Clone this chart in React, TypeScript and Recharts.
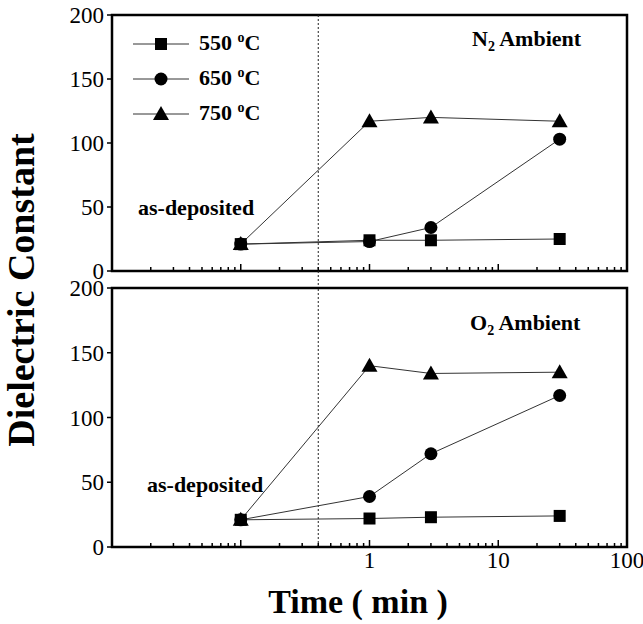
import React from 'react';
import { LineChart, Line, XAxis, YAxis, ReferenceLine, ReferenceArea, Legend } from 'recharts';

// annealing time (min); 0.1 stands for the as-deposited film
const TIMES = [0.1, 1, 3, 30];

const N2_550 = [21, 24, 24, 25];
const N2_650 = [21, 23, 34, 103];
const N2_750 = [21, 117, 120, 117];

const O2_550 = [21, 22, 23, 24];
const O2_650 = [21, 39, 72, 117];
const O2_750 = [21, 140, 134, 135];

const SERIES = ['550', '650', '750'];
const Y_TICKS = [0, 50, 100, 150, 200];
const X_LABELS = [1, 10, 100];
const X_DECADES = [0.01, 0.1, 1, 10, 100];
const DIVIDER_X = 0.4;

const FONT = '"Liberation Serif", "Times New Roman", serif';

// log ticks: every 1..9 multiple of each decade
const X_TICKS: number[] = [];
X_DECADES.slice(0, 4).forEach(d => {
    for (let m = 1; m < 10; m++) X_TICKS.push(+(d * m).toPrecision(3));
});
X_TICKS.push(100);

const buildRows = (a: number[], b: number[], c: number[]) =>
    TIMES.map((t, i) => ({ t, s550: a[i], s650: b[i], s750: c[i] }));

const n2Rows = buildRows(N2_550, N2_650, N2_750);
const o2Rows = buildRows(O2_550, O2_650, O2_750);

const Square = (p: any) => <rect key={`sq-${p.index}`} x={p.cx - 6} y={p.cy - 6} width={12} height={12} fill="#000" />;
const Dot = (p: any) => <circle key={`ci-${p.index}`} cx={p.cx} cy={p.cy} r={6.5} fill="#000" />;
const Tri = (p: any) => (
    <polygon key={`tr-${p.index}`} points={`${p.cx},${p.cy - 8} ${p.cx - 8},${p.cy + 6} ${p.cx + 8},${p.cy + 6}`} fill="#000" />
);

const MARKERS: Record<string, (p: any) => React.ReactElement> = { '550': Square, '650': Dot, '750': Tri };

const XTick = ({ x, y, payload, showLabel }: any) => {
    const v = payload.value;
    const major = X_DECADES.some(d => Math.abs(d - v) < 1e-9);
    const len = major ? 7 : 4;
    return (
        <g>
            <line x1={x} x2={x} y1={y} y2={y - len} stroke="#000" strokeWidth={1.5} />
            {showLabel && X_LABELS.includes(v) && (
                <text x={x} y={y + 21} textAnchor="middle" fontSize={23} fontFamily={FONT} fill="#000">{v}</text>
            )}
        </g>
    );
};

// y tick: text position comes in already offset by tickSize + tickMargin
const YTick = ({ x, y, payload }: any) => (
    <text x={x} y={y} dy={8} textAnchor="end" fontSize={23} fontFamily={FONT} fill="#000">{payload.value}</text>
);

const LegendContent = () => (
    <div style={{ fontFamily: FONT, fontWeight: 'bold', fontSize: 22, color: '#000' }}>
        {SERIES.map(s => (
            <div key={s} style={{ display: 'flex', alignItems: 'center', height: 35 }}>
                <svg width={58} height={20} style={{ marginRight: 8 }}>
                    <line x1={0} x2={56} y1={10} y2={10} stroke="#333" strokeWidth={1} />
                    {MARKERS[s]({ cx: 28, cy: 10, index: 0 })}
                </svg>
                <span>{s} <sup style={{ fontSize: 14 }}>o</sup>C</span>
            </div>
        ))}
    </div>
);

const Panel = ({ rows, height, marginTop, xAxisHeight, showXLabels, extendDivider, withLegend }: any) => (
    <LineChart width={643} height={height} data={rows} margin={{ top: marginTop, right: 16, bottom: 0, left: 0 }}>
        <XAxis
            dataKey="t"
            type="number"
            scale="log"
            domain={[0.01, 100]}
            allowDataOverflow
            ticks={X_TICKS}
            interval={0}
            axisLine={false}
            tickLine={false}
            tickSize={0}
            tickMargin={0}
            height={xAxisHeight}
            tick={<XTick showLabel={showXLabels} />}
        />
        <YAxis
            type="number"
            domain={[0, 200]}
            ticks={Y_TICKS}
            interval={0}
            width={112}
            axisLine={false}
            tickLine={{ stroke: '#000', strokeWidth: 1.5 }}
            tickSize={5}
            tickMargin={3}
            tick={<YTick />}
        />
        {extendDivider ? (
            <ReferenceLine
                segment={[{ x: DIVIDER_X, y: 200 }, { x: DIVIDER_X, y: -14 }]}
                ifOverflow="visible"
                stroke="#222"
                strokeDasharray="2 2"
            />
        ) : (
            <ReferenceLine x={DIVIDER_X} stroke="#222" strokeDasharray="2 2" />
        )}
        <ReferenceArea x1={0.01} x2={100} y1={0} y2={200} fill="none" stroke="#000" strokeWidth={2.5} ifOverflow="visible" />
        {withLegend && (
            <Legend
                layout="vertical"
                align="center"
                verticalAlign="middle"
                wrapperStyle={{ left: 133, top: 26, width: 170 }}
                content={<LegendContent />}
            />
        )}
        {SERIES.map(s => (
            <Line
                key={s}
                dataKey={`s${s}`}
                name={`${s} °C`}
                stroke="#333"
                strokeWidth={1}
                dot={MARKERS[s]}
                activeDot={false}
                isAnimationActive={false}
            />
        ))}
    </LineChart>
);

const textStyle: React.CSSProperties = { fontFamily: FONT, fontWeight: 'bold', fill: '#000' };

const App = () => (
    <div style={{ position: 'absolute', left: 0, top: 0, width: 643, height: 624, background: '#fff' }}>
        <div style={{ position: 'absolute', left: 0, top: 0 }}>
            <Panel rows={n2Rows} height={290} marginTop={15} xAxisHeight={19} showXLabels={false} extendDivider withLegend />
        </div>
        <div style={{ position: 'absolute', left: 0, top: 272 }}>
            <Panel rows={o2Rows} height={352} marginTop={16} xAxisHeight={77} showXLabels extendDivider={false} withLegend={false} />
        </div>
        <svg width={643} height={624} style={{ position: 'absolute', left: 0, top: 0, pointerEvents: 'none' }}>
            <text x={472} y={46} fontSize={22} style={textStyle}>
                N<tspan fontSize={14} dy={5}>2</tspan><tspan dy={-5}> Ambient</tspan>
            </text>
            <text x={470} y={330} fontSize={22} style={textStyle}>
                O<tspan fontSize={14} dy={5}>2</tspan><tspan dy={-5}> Ambient</tspan>
            </text>
            <text x={138} y={215} fontSize={22} style={textStyle}>as-deposited</text>
            <text x={147} y={492} fontSize={22} style={textStyle}>as-deposited</text>
            <text x={34} y={290} fontSize={38} textAnchor="middle" transform="rotate(-90 34 290)" style={textStyle}>
                Dielectric Constant
            </text>
            <text x={358} y={613} fontSize={34} textAnchor="middle" style={textStyle}>Time ( min )</text>
        </svg>
    </div>
);

export default App;
